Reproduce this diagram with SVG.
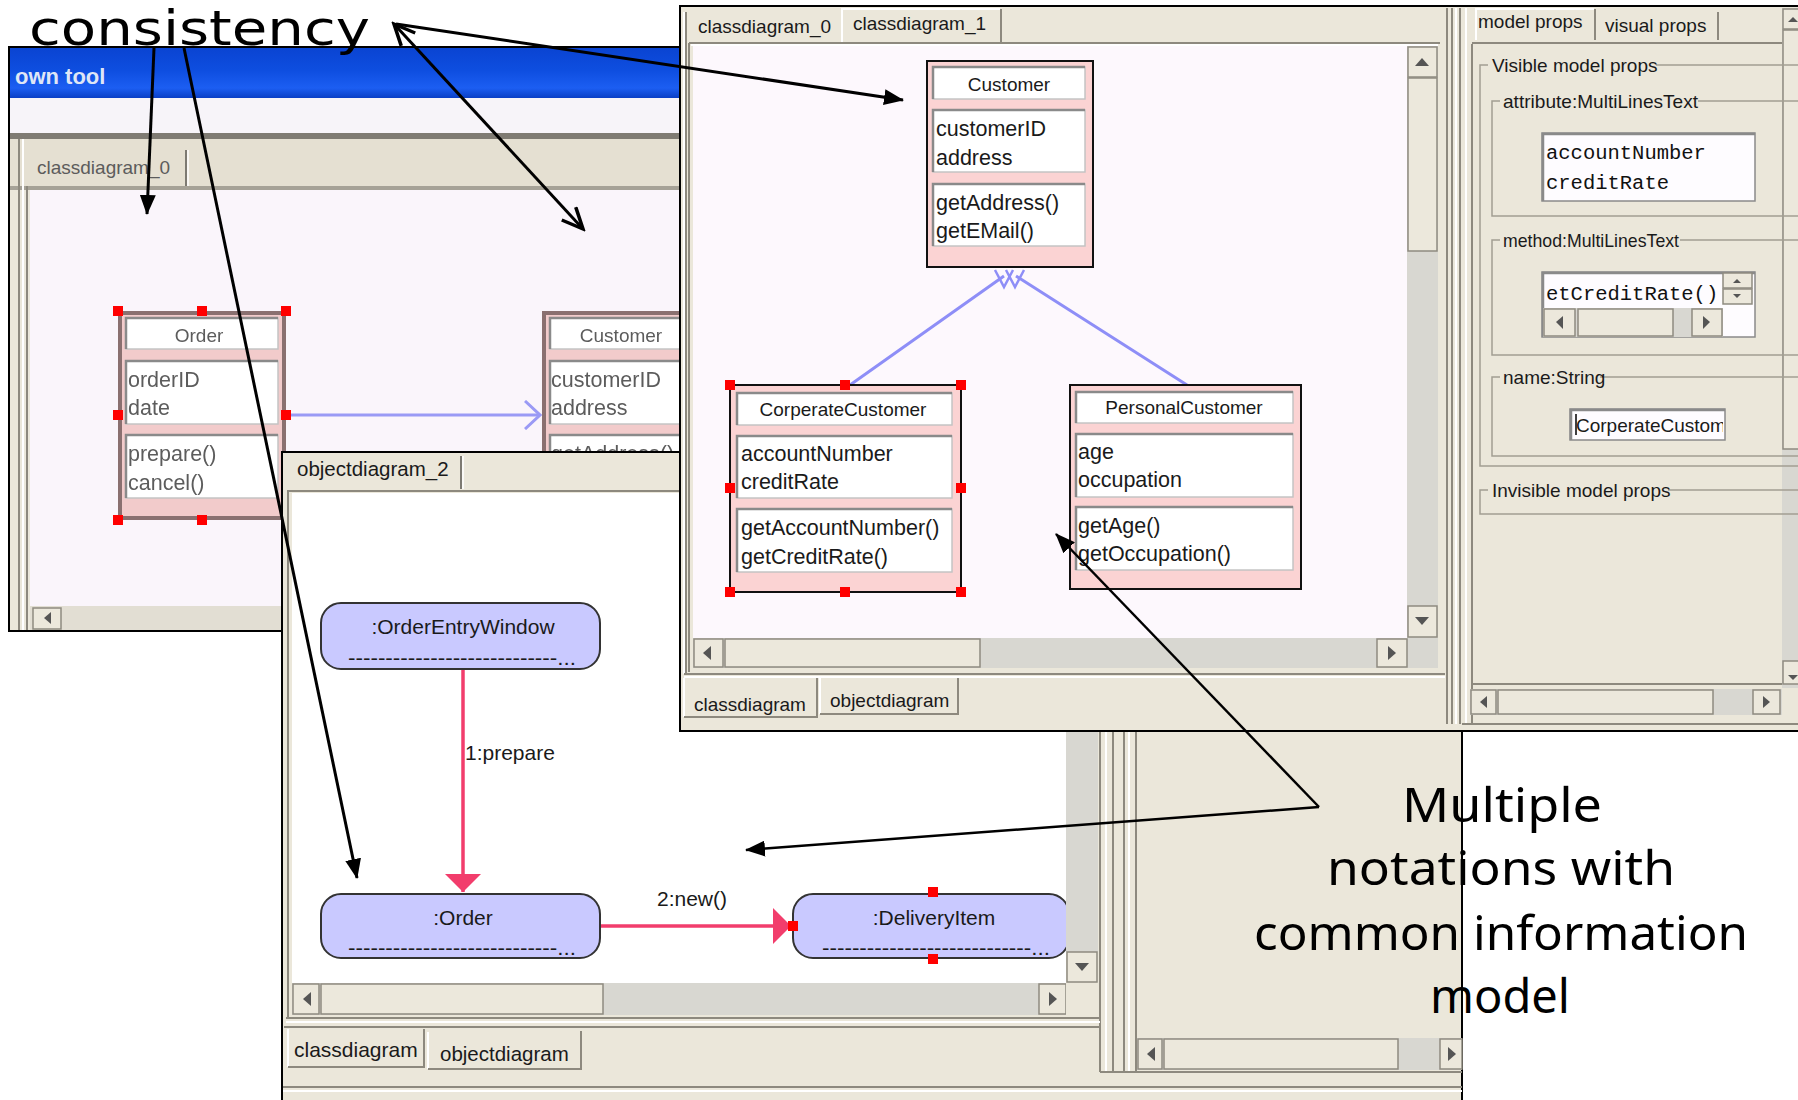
<svg xmlns="http://www.w3.org/2000/svg" width="1798" height="1100" viewBox="0 0 1798 1100">
<defs>
<style>
.ui{font-family:"Liberation Sans",Arial,sans-serif;fill:#1a1a1a;}
.tab{font-size:19px;}
.cls{font-size:21.5px;}
.nm{font-size:19px;text-anchor:middle;}
.obt{font-size:21px;text-anchor:middle;}
.mono{font-family:"Liberation Mono","Courier New",monospace;font-size:20.5px;fill:#111;}
.hand{font-family:"Noto Sans","DejaVu Sans",sans-serif;fill:#000;}
.win{fill:#ebe7da;stroke:#000;stroke-width:2;}
.beige{fill:#ebe7da;}
.comp{fill:#fff;stroke:#c4c4c4;stroke-width:1.5;}
.inset{fill:none;stroke:#8a8a8a;stroke-width:2.5;}
.h{fill:#f00;}
.ann{stroke:#000;stroke-width:3;fill:none;}
.ann2{stroke:#000;stroke-width:2.5;fill:none;}
.track{fill:#d8d7d1;}
.btn{fill:#ece8dc;stroke:#8e8b80;stroke-width:1.5;}
.etch{fill:none;stroke:#a29e92;stroke-width:1.5;}
.dk{stroke:#8d897e;stroke-width:2;fill:none;}
.lt{stroke:#ffffff;stroke-width:2;fill:none;}
.obj{fill:#c9c9ff;stroke:#333;stroke-width:2;}
.tri{fill:#555;}
.gen{stroke:#8e8ef7;stroke-width:3;fill:none;}
.msg{stroke:#f23d6c;stroke-width:3.5;fill:none;}
.pink{fill:#fbd3d3;stroke:#111;stroke-width:2;}
.fadedpink{fill:#f2cbcb;stroke:#8a7070;stroke-width:4;}
.ftxt{fill:#5c5c5c;}
</style>
<linearGradient id="xp" x1="0" y1="0" x2="0" y2="1">
<stop offset="0" stop-color="#0a44d2"/>
<stop offset="0.45" stop-color="#0e4ee0"/>
<stop offset="0.8" stop-color="#1c5ef2"/>
<stop offset="1" stop-color="#0a3fc6"/>
</linearGradient>
<filter id="soft" x="-5%" y="-5%" width="110%" height="110%"><feGaussianBlur stdDeviation="0.6"/></filter>
<clipPath id="clipB"><rect x="292" y="493" width="774" height="490"/></clipPath>
<clipPath id="clipName"><rect x="1572" y="411" width="151" height="28"/></clipPath>
<marker id="fa" viewBox="0 0 20 16" refX="19" refY="8" markerWidth="20" markerHeight="16" markerUnits="userSpaceOnUse" orient="auto"><path d="M0,0 L20,8 L0,16 Z" fill="#000"/></marker>
<marker id="va" viewBox="0 0 26 22" refX="23" refY="11" markerWidth="26" markerHeight="22" markerUnits="userSpaceOnUse" orient="auto-start-reverse"><path d="M2,1.5 L23,11 L2,20.5" fill="none" stroke="#000" stroke-width="3.5"/></marker>
<marker id="pa" viewBox="0 0 18 36" refX="18" refY="18" markerWidth="18" markerHeight="36" markerUnits="userSpaceOnUse" orient="auto"><path d="M0,0 L18,18 L0,36 Z" fill="#f23d6c"/></marker>
<marker id="ba" viewBox="0 0 18 30" refX="16" refY="15" markerWidth="18" markerHeight="30" markerUnits="userSpaceOnUse" orient="auto"><path d="M1,1 L16,15 L1,29" fill="none" stroke="#9a9af5" stroke-width="3"/></marker>
</defs>

<rect x="0" y="0" width="1798" height="1100" fill="#ffffff"/>

<!-- ===== Window A (own tool, classdiagram_0) ===== -->
<g id="window-a">
<rect class="win" x="9" y="47" width="700" height="584"/>
<rect x="10" y="48" width="698" height="50" fill="url(#xp)"/>
<text x="15" y="84" font-family="Liberation Sans, Arial, sans-serif" font-weight="bold" font-size="22" fill="#dfe6f6">own tool</text>
<rect x="10" y="98" width="698" height="35" fill="#f7f4f9"/>
<rect x="10" y="133" width="698" height="6" fill="#7f7b73"/>
<rect x="10" y="139" width="698" height="47" fill="#e5e0d2"/>
<rect x="10" y="186" width="698" height="4" fill="#a6a297"/>
<path class="dk" d="M19,139 V630 M27,186 V630"/>
<path class="lt" d="M23,139 V630"/>
<text class="ui tab ftxt" x="37" y="174">classdiagram_0</text>
<path d="M186,150 V186" stroke="#7d7a72" stroke-width="2"/>
<path d="M188,150 V186" stroke="#fff" stroke-width="1.5"/>
<rect x="30" y="190" width="679" height="416" fill="#faf5fb"/>
<rect x="30" y="606" width="679" height="24" fill="#e2ded3"/>
<rect class="btn" x="33" y="608" width="28" height="21"/>
<path class="tri" d="M51,612 L44,618 L51,624 Z"/>
<g filter="url(#soft)">
<line x1="290" y1="415" x2="540" y2="415" stroke="#9a9af5" stroke-width="3" marker-end="url(#ba)"/>
<g id="a-order">
<rect class="fadedpink" x="120" y="313" width="164" height="205"/>
<rect class="comp" x="126" y="318" width="152" height="31"/><path class="inset" d="M126,349 V318 H278"/>
<rect class="comp" x="126" y="361" width="152" height="63"/><path class="inset" d="M126,424 V361 H278"/>
<rect class="comp" x="126" y="435" width="152" height="63"/><path class="inset" d="M126,498 V435 H278"/>
<text class="ui nm ftxt" x="199" y="342">Order</text>
<text class="ui cls ftxt" x="128" y="387">orderID</text>
<text class="ui cls ftxt" x="128" y="415">date</text>
<text class="ui cls ftxt" x="128" y="461">prepare()</text>
<text class="ui cls ftxt" x="128" y="490">cancel()</text>
<rect class="h" x="113" y="306" width="10" height="10"/>
<rect class="h" x="197" y="306" width="10" height="10"/>
<rect class="h" x="281" y="306" width="10" height="10"/>
<rect class="h" x="113" y="410" width="10" height="10"/>
<rect class="h" x="281" y="410" width="10" height="10"/>
<rect class="h" x="113" y="515" width="10" height="10"/>
<rect class="h" x="197" y="515" width="10" height="10"/>
</g>
<g id="a-customer">
<rect class="fadedpink" x="544" y="313" width="180" height="205"/>
<rect class="comp" x="550" y="318" width="170" height="31"/><path class="inset" d="M550,349 V318 H720"/>
<rect class="comp" x="550" y="361" width="170" height="63"/><path class="inset" d="M550,424 V361 H720"/>
<rect class="comp" x="550" y="435" width="170" height="63"/><path class="inset" d="M550,498 V435 H720"/>
<text class="ui nm ftxt" x="621" y="342">Customer</text>
<text class="ui cls ftxt" x="551" y="387">customerID</text>
<text class="ui cls ftxt" x="551" y="415">address</text>
<text class="ui cls ftxt" x="551" y="461">getAddress()</text>
</g>
</g>
</g>

<!-- ===== Window B (objectdiagram_2) ===== -->
<g id="window-b">
<rect class="win" x="282" y="452" width="1180" height="660"/>
<text class="ui" x="297" y="476" font-size="20.5">objectdiagram_2</text>
<path d="M461,456 V489" stroke="#7d7a72" stroke-width="2"/>
<path d="M463,456 V489" stroke="#fff" stroke-width="1.5"/>
<path class="dk" d="M287,491 H1100"/>
<path class="dk" d="M288,491 V1018"/>
<rect x="292" y="493" width="774" height="490" fill="#ffffff"/>
<rect class="track" x="1066" y="493" width="32" height="459"/>
<rect class="btn" x="1067" y="952" width="30" height="30"/>
<path class="tri" d="M1075,963 L1089,963 L1082,971 Z"/>
<rect class="track" x="292" y="983" width="774" height="32"/>
<rect class="btn" x="293" y="984" width="26" height="30"/>
<path class="tri" d="M311,992 L303,999 L311,1006 Z"/>
<rect class="btn" x="321" y="984" width="282" height="30"/>
<rect class="btn" x="1039" y="984" width="27" height="30"/>
<path class="tri" d="M1049,992 L1057,999 L1049,1006 Z"/>
<rect class="beige" x="1066" y="983" width="32" height="32"/>
<path class="dk" d="M1100,452 V1072 M1113,452 V1072 M1124,452 V1072 M1136,730 V1072"/>
<path class="lt" d="M1106,452 V1072 M1129,452 V1072"/>
<path class="dk" d="M286,1018 H1100"/>
<path class="lt" d="M286,1022 H1100"/>
<rect class="track" x="1137" y="1038" width="325" height="32"/>
<rect class="btn" x="1138" y="1039" width="24" height="30"/>
<path class="tri" d="M1155,1047 L1147,1054 L1155,1061 Z"/>
<rect class="btn" x="1164" y="1039" width="234" height="30"/>
<rect class="btn" x="1440" y="1039" width="22" height="30"/>
<path class="tri" d="M1448,1047 L1456,1054 L1448,1061 Z"/>
<path class="dk" d="M1100,1072 H1462"/>
<path class="dk" d="M284,1027 H1100"/>
<path class="lt" d="M288,1067 V1029 M428,1069 V1032"/>
<path class="dk" d="M424,1029 V1067 H288 M581,1031 V1069 H428"/>
<text class="ui" x="294" y="1057" font-size="21">classdiagram</text>
<text class="ui" x="440" y="1061" font-size="20.5">objectdiagram</text>
<path class="dk" d="M283,1087 H1462"/>
<path class="lt" d="M283,1091 H1462"/>
<g clip-path="url(#clipB)">
<g id="connectors-b">
<line class="msg" x1="463" y1="669" x2="463" y2="892" marker-end="url(#pa)"/>
<line class="msg" x1="600" y1="926" x2="791" y2="926" marker-end="url(#pa)"/>
<text class="ui" x="465" y="760" font-size="21">1:prepare</text>
<text class="ui" x="657" y="906" font-size="21">2:new()</text>
</g>
<g id="n-orderentrywindow">
<rect class="obj" x="321" y="603" width="279" height="66" rx="20"/>
<text class="ui obt" x="463" y="634">:OrderEntryWindow</text>
<text class="ui" x="348" y="665" font-size="21" textLength="228" lengthAdjust="spacingAndGlyphs">----------------------------...</text>
</g>
<g id="n-order">
<rect class="obj" x="321" y="894" width="279" height="64" rx="20"/>
<text class="ui obt" x="463" y="925">:Order</text>
<text class="ui" x="348" y="955" font-size="21" textLength="228" lengthAdjust="spacingAndGlyphs">----------------------------...</text>
</g>
<g id="n-deliveryitem">
<rect class="obj" x="793" y="894" width="276" height="64" rx="20"/>
<text class="ui obt" x="934" y="925">:DeliveryItem</text>
<text class="ui" x="822" y="955" font-size="21" textLength="228" lengthAdjust="spacingAndGlyphs">----------------------------...</text>
<rect class="h" x="928" y="887" width="10" height="10"/>
<rect class="h" x="788" y="921" width="10" height="10"/>
<rect class="h" x="928" y="954" width="10" height="10"/>
</g>
</g>
</g>

<!-- ===== Window C (classdiagram_1 + props) ===== -->
<g id="window-c">
<rect class="win" x="680" y="6" width="1130" height="725"/>
<path class="dk" d="M686,12 V674"/>
<path class="lt" d="M684,12 V674"/>
<text class="ui tab" x="698" y="33">classdiagram_0</text>
<path class="lt" d="M842,43 V9 H1000"/>
<path class="dk" d="M1001,9 V43"/>
<text class="ui tab" x="853" y="30">classdiagram_1</text>
<path class="dk" d="M689,43 H1440 M689,43 V672"/>
<path class="lt" d="M691,45 H1438"/>
<rect x="693" y="46" width="714" height="592" fill="#fdf8fd"/>
<rect class="track" x="1407" y="46" width="31" height="592"/>
<rect class="btn" x="1408" y="47" width="29" height="30"/>
<path class="tri" d="M1415,66 L1429,66 L1422,58 Z"/>
<rect class="btn" x="1408" y="78" width="29" height="173"/>
<rect class="btn" x="1408" y="606" width="29" height="31"/>
<path class="tri" d="M1415,617 L1429,617 L1422,625 Z"/>
<rect class="track" x="693" y="638" width="745" height="30"/>
<rect class="btn" x="694" y="639" width="29" height="28"/>
<path class="tri" d="M711,646 L703,653 L711,660 Z"/>
<rect class="btn" x="725" y="639" width="255" height="28"/>
<rect class="btn" x="1377" y="639" width="30" height="28"/>
<path class="tri" d="M1388,646 L1396,653 L1388,660 Z"/>
<path class="dk" d="M684,674 H1445"/>
<path class="lt" d="M684,677 H1445"/>
<path class="lt" d="M684,717 V678 M820,714 V678"/>
<path class="dk" d="M817,678 V717 H684 M958,678 V714 H820"/>
<text class="ui tab" x="694" y="711">classdiagram</text>
<text class="ui tab" x="830" y="707">objectdiagram</text>

<g id="connectors-c">
<path class="gen" d="M1004,276 L850,385 M1016,276 L1187,385"/>
<path d="M995,270 L1004,287 L1013,270 M1006,270 L1015,287 L1024,270" stroke="#8e8ef7" stroke-width="2.5" fill="none"/>
</g>
<g id="c-customer">
<rect class="pink" x="927" y="61" width="166" height="206"/>
<rect class="comp" x="933" y="67" width="152" height="32"/><path class="inset" d="M933,99 V67 H1085"/>
<rect class="comp" x="933" y="110" width="152" height="62"/><path class="inset" d="M933,172 V110 H1085"/>
<rect class="comp" x="933" y="184" width="152" height="62"/><path class="inset" d="M933,246 V184 H1085"/>
<text class="ui nm" x="1009" y="91">Customer</text>
<text class="ui cls" x="936" y="136">customerID</text>
<text class="ui cls" x="936" y="165">address</text>
<text class="ui cls" x="936" y="210">getAddress()</text>
<text class="ui cls" x="936" y="238">getEMail()</text>
</g>
<g id="c-corperatecustomer">
<rect class="pink" x="730" y="385" width="231" height="207"/>
<rect class="comp" x="737" y="393" width="215" height="32"/><path class="inset" d="M737,425 V393 H952"/>
<rect class="comp" x="737" y="436" width="215" height="62"/><path class="inset" d="M737,498 V436 H952"/>
<rect class="comp" x="737" y="509" width="215" height="63"/><path class="inset" d="M737,572 V509 H952"/>
<text class="ui nm" x="843" y="416">CorperateCustomer</text>
<text class="ui cls" x="741" y="461">accountNumber</text>
<text class="ui cls" x="741" y="489">creditRate</text>
<text class="ui cls" x="741" y="535">getAccountNumber()</text>
<text class="ui cls" x="741" y="564">getCreditRate()</text>
<rect class="h" x="725" y="380" width="10" height="10"/>
<rect class="h" x="840" y="380" width="10" height="10"/>
<rect class="h" x="956" y="380" width="10" height="10"/>
<rect class="h" x="725" y="483" width="10" height="10"/>
<rect class="h" x="956" y="483" width="10" height="10"/>
<rect class="h" x="725" y="587" width="10" height="10"/>
<rect class="h" x="840" y="587" width="10" height="10"/>
<rect class="h" x="956" y="587" width="10" height="10"/>
</g>
<g id="c-personalcustomer">
<rect class="pink" x="1070" y="385" width="231" height="204"/>
<rect class="comp" x="1076" y="392" width="217" height="31"/><path class="inset" d="M1076,423 V392 H1293"/>
<rect class="comp" x="1076" y="434" width="217" height="63"/><path class="inset" d="M1076,497 V434 H1293"/>
<rect class="comp" x="1076" y="507" width="217" height="63"/><path class="inset" d="M1076,570 V507 H1293"/>
<text class="ui nm" x="1184" y="414">PersonalCustomer</text>
<text class="ui cls" x="1078" y="459">age</text>
<text class="ui cls" x="1078" y="487">occupation</text>
<text class="ui cls" x="1078" y="533">getAge()</text>
<text class="ui cls" x="1078" y="561">getOccupation()</text>
</g>

<!-- splitter and property panel -->
<path class="dk" d="M1447,8 V724 M1452,8 V724 M1460,8 V724 M1472,44 V724"/>
<path class="lt" d="M1456,8 V724 M1466,8 V724"/>
<path class="lt" d="M1476,40 V9 H1594"/>
<path class="dk" d="M1595,9 V40 M1718,12 V40"/>
<text class="ui tab" x="1478" y="28">model props</text>
<text class="ui tab" x="1605" y="32">visual props</text>
<path class="dk" d="M1472,43 H1782"/>
<rect class="track" x="1782" y="8" width="16" height="680"/>
<rect class="btn" x="1783" y="9" width="16" height="20"/>
<rect class="btn" x="1783" y="30" width="16" height="419"/>
<rect class="btn" x="1783" y="661" width="16" height="23"/>
<path class="tri" d="M1788,675 L1798,675 L1793,680 Z"/>
<path class="tri" d="M1788,22 L1798,22 L1793,17 Z"/>
<rect class="etch" x="1480" y="65" width="330" height="401"/>
<rect class="beige" x="1488" y="55" width="168" height="20"/>
<text class="ui tab" x="1492" y="72">Visible model props</text>
<rect class="etch" x="1492" y="101" width="310" height="115"/>
<rect class="beige" x="1500" y="91" width="198" height="20"/>
<text class="ui" x="1503" y="108" font-size="18.5" textLength="195" lengthAdjust="spacingAndGlyphs">attribute:MultiLinesText</text>
<rect x="1542" y="133" width="213" height="68" fill="#fefcff" stroke="#8a8a8a" stroke-width="1.5"/>
<path class="inset" d="M1543,201 V134 H1755"/>
<text class="mono" x="1546" y="159">accountNumber</text>
<text class="mono" x="1546" y="189">creditRate</text>
<rect class="etch" x="1492" y="240" width="310" height="115"/>
<rect class="beige" x="1500" y="230" width="180" height="20"/>
<text class="ui" x="1503" y="247" font-size="18.5" textLength="176" lengthAdjust="spacingAndGlyphs">method:MultiLinesText</text>
<rect x="1542" y="272" width="213" height="65" fill="#fefcff" stroke="#8a8a8a" stroke-width="1.5"/>
<path class="inset" d="M1543,337 V273 H1755"/>
<text class="mono" x="1546" y="300">etCreditRate()</text>
<rect class="btn" x="1723" y="273" width="29" height="15"/>
<rect class="btn" x="1723" y="289" width="29" height="15"/>
<path class="tri" d="M1733,283 L1741,283 L1737,279 Z M1733,294 L1741,294 L1737,298 Z"/>
<rect class="track" x="1543" y="308" width="180" height="29"/>
<rect class="btn" x="1544" y="309" width="31" height="27"/>
<path class="tri" d="M1563,316 L1556,322 L1563,329 Z"/>
<rect class="btn" x="1578" y="309" width="95" height="27"/>
<rect class="btn" x="1692" y="309" width="30" height="27"/>
<path class="tri" d="M1703,316 L1710,322 L1703,329 Z"/>
<rect class="etch" x="1492" y="377" width="310" height="79"/>
<rect class="beige" x="1500" y="367" width="100" height="20"/>
<text class="ui tab" x="1503" y="384">name:String</text>
<rect x="1570" y="409" width="155" height="31" fill="#fefcff" stroke="#8a8a8a" stroke-width="1.5"/>
<path class="inset" d="M1571,440 V410 H1725"/>
<path d="M1576,414 V435" stroke="#000" stroke-width="1.5"/>
<g clip-path="url(#clipName)">
<text class="ui" x="1576" y="432" font-size="19">CorperateCustomer</text>
</g>
<rect class="etch" x="1480" y="490" width="330" height="24"/>
<rect class="beige" x="1488" y="480" width="180" height="20"/>
<text class="ui tab" x="1492" y="497">Invisible model props</text>
<path class="dk" d="M1472,684 H1782"/>
<rect class="track" x="1470" y="689" width="312" height="26"/>
<rect class="btn" x="1471" y="690" width="25" height="24"/>
<path class="tri" d="M1487,696 L1480,702 L1487,708 Z"/>
<rect class="btn" x="1498" y="690" width="215" height="24"/>
<rect class="btn" x="1753" y="690" width="27" height="24"/>
<path class="tri" d="M1763,696 L1770,702 L1763,708 Z"/>
<path class="dk" d="M1462,724 H1798"/>
</g>

<!-- ===== Annotations ===== -->
<g id="annotations">
<text x="29" y="45" font-family="DejaVu Sans, sans-serif" font-size="48" fill="#000" textLength="341" lengthAdjust="spacingAndGlyphs">consistency</text>
<text class="hand" x="1502" y="822" font-size="47" text-anchor="middle" textLength="200" lengthAdjust="spacingAndGlyphs">Multiple</text>
<text class="hand" x="1501" y="885" font-size="47" text-anchor="middle" textLength="348" lengthAdjust="spacingAndGlyphs">notations with</text>
<text class="hand" x="1501" y="950" font-size="47" text-anchor="middle" textLength="494" lengthAdjust="spacingAndGlyphs">common information</text>
<text class="hand" x="1500" y="1013" font-size="47" text-anchor="middle" textLength="140" lengthAdjust="spacingAndGlyphs">model</text>
</g>
<g id="connectors">
<line class="ann" x1="154" y1="48" x2="147" y2="214" marker-end="url(#fa)"/>
<line class="ann" x1="184" y1="48" x2="357" y2="878" marker-end="url(#fa)"/>
<line class="ann" x1="394" y1="24" x2="583" y2="229" marker-start="url(#va)" marker-end="url(#va)"/>
<line class="ann" x1="396" y1="24" x2="903" y2="100" marker-end="url(#fa)"/>
<line class="ann2" x1="1319" y1="807" x2="1056" y2="534" marker-end="url(#fa)"/>
<line class="ann2" x1="1319" y1="807" x2="746" y2="850" marker-end="url(#fa)"/>
</g>
</svg>
